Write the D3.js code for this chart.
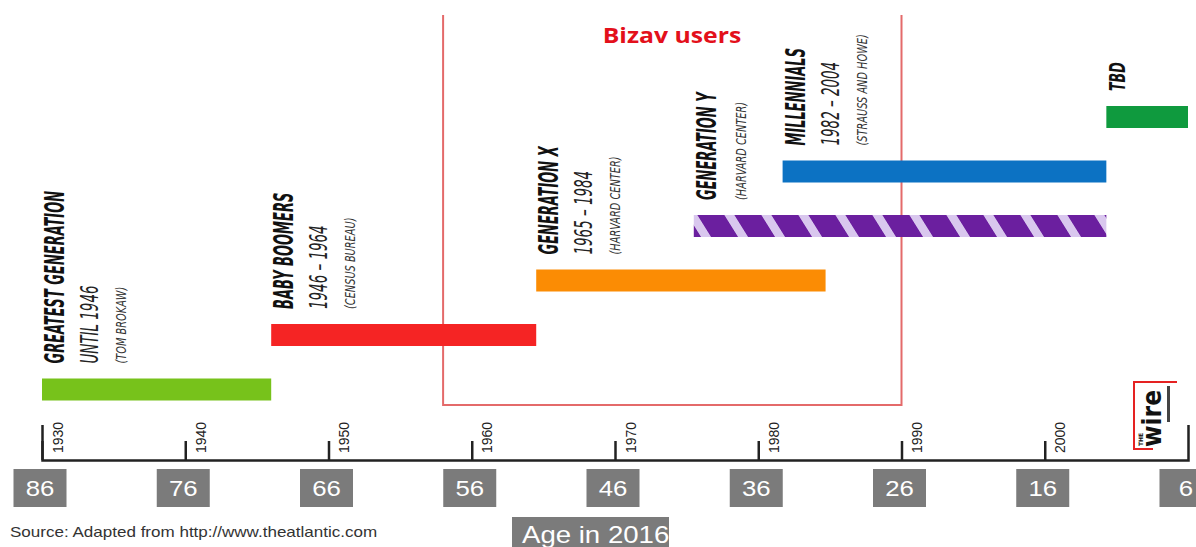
<!DOCTYPE html>
<html>
<head>
<meta charset="utf-8">
<script src="https://cdn.jsdelivr.net/npm/d3@7"></script>
<style>
  html, body { margin: 0; padding: 0; background: #fff; }
  svg { display: block; }
</style>
</head>
<body>
<svg id="chart" width="1196" height="547"></svg>
<script>
// ---------- DATA ----------
const genNames   = ["GREATEST GENERATION", "BABY BOOMERS", "GENERATION X", "GENERATION Y", "MILLENNIALS", "TBD"];
const genSpans   = ["UNTIL 1946", "1946 – 1964", "1965 – 1984", "", "1982 – 2004", ""];
const genSources = ["(TOM BROKAW)", "(CENSUS BUREAU)", "(HARVARD CENTER)", "(HARVARD CENTER)", "(STRAUSS AND HOWE)", ""];
const genStart   = [1930, 1946, 1964.5, 1975.5, 1981.7, 2004.3];
const genEnd     = [1946, 1964.5, 1984.7, 2004.3, 2004.3, 2010];
const tickYears  = [1930, 1940, 1950, 1960, 1970, 1980, 1990, 2000];
const ageYears   = [1930, 1940, 1950, 1960, 1970, 1980, 1990, 2000, 2010];
const ages       = [86, 76, 66, 56, 46, 36, 26, 16, 6];
const bizavRange = [1958, 1990];
const bizavLabel = "Bizav users";
const ageTitle   = "Age in 2016";
const sourceNote = "Source: Adapted from http://www.theatlantic.com";

// ---------- STYLE ----------
const genColors = ["#77c21b", "#f52424", "#fb8c04", "url(#stripes)", "#0c72c3", "#0f9a3e"];
const sansFont = "'Liberation Sans', Arial, Helvetica, sans-serif";
const labelFont = "'DejaVu Sans', sans-serif";

const svg = d3.select("#chart");

const x = d3.scaleLinear().domain([1930, 2010]).range([42, 1188]);
const y = d3.scalePoint().domain(genNames).range([389.5, 117]);
const barH = 22;

// pattern for Generation Y
const defs = svg.append("defs");
const pat = defs.append("pattern")
  .attr("id", "stripes")
  .attr("patternUnits", "userSpaceOnUse")
  .attr("width", 37).attr("height", 40)
  .attr("patternTransform", "translate(8,0) skewX(32)");
pat.append("rect").attr("width", 37).attr("height", 40).attr("fill", "#6b1f9f");
pat.append("rect").attr("x", 27).attr("width", 10).attr("height", 40).attr("fill", "#d9c7ee");

// Bizav box (open top)
const bx0 = x(bizavRange[0]), bx1 = x(bizavRange[1]);
svg.append("path")
  .attr("d", `M${bx0},15V405H${bx1}V15`)
  .attr("fill", "none")
  .attr("stroke", "#e46a6a")
  .attr("stroke-width", 2);
svg.append("text")
  .attr("transform", "translate(672,43) scale(1.18,1)")
  .attr("text-anchor", "middle")
  .attr("font-family", "'Open Sans', sans-serif")
  .attr("font-weight", 700)
  .attr("font-size", 21)
  .attr("fill", "#e3101b")
  .text(bizavLabel);

// Bars
const gens = genNames.map((n, i) => ({
  name: n, span: genSpans[i], source: genSources[i],
  start: genStart[i], end: genEnd[i], color: genColors[i]
}));

svg.append("g").selectAll("rect").data(gens).join("rect")
  .attr("x", d => x(d.start))
  .attr("y", d => y(d.name) - barH / 2)
  .attr("width", d => x(d.end) - x(d.start))
  .attr("height", barH)
  .attr("fill", d => d.color);

// Rotated, condensed labels (condensed along the reading direction)
function vlabel(g, px, py, k, txt) {
  return g.append("text")
    .attr("transform", `translate(${px},${py}) rotate(-90) scale(${k},1)`)
    .text(txt);
}

gens.forEach(d => {
  const x0 = x(d.start);
  const yb = y(d.name) - barH / 2 - 15;
  const g = svg.append("g").attr("font-family", labelFont).attr("font-style", "italic");
  const isTBD = d.name === "TBD";
  let off = isTBD ? 19 : 22;
  vlabel(g, x0 + off, yb, isTBD ? 0.6 : 0.5, d.name)
    .attr("font-weight", 700)
    .attr("font-size", isTBD ? 21 : 26)
    .attr("fill", "#111");
  if (d.span) {
    off += 34;
    vlabel(g, x0 + off, yb, 0.56, d.span)
      .attr("font-size", 24)
      .attr("fill", "#222");
    off += 28;
  } else {
    off += 30;
  }
  if (d.source) {
    vlabel(g, x0 + off, yb, 0.7, d.source)
      .attr("font-size", 14)
      .attr("fill", "#333");
  }
});

// Axis
const axisG = svg.append("g")
  .attr("transform", "translate(0,460)")
  .call(d3.axisTop(x).tickValues(tickYears).tickSizeInner(19).tickSizeOuter(35).tickFormat(d3.format("d")));
axisG.attr("font-family", sansFont).attr("font-size", 14);
axisG.select(".domain").attr("stroke", "#222").attr("stroke-width", 2.5).attr("fill", "none");
axisG.selectAll(".tick line").attr("stroke", "#222").attr("stroke-width", 2.5);
axisG.selectAll(".tick text")
  .attr("transform", "rotate(-90)")
  .attr("x", 7).attr("y", 20).attr("dy", null)
  .attr("text-anchor", "start")
  .attr("fill", "#222");

// Age boxes
const ageData = ageYears.map((yr, i) => ({ yr, age: ages[i] }));
const ageG = svg.append("g").selectAll("g").data(ageData).join("g");
ageG.append("rect")
  .attr("x", d => x(d.yr) - 28.5)
  .attr("y", 469)
  .attr("width", 53).attr("height", 38)
  .attr("fill", "#7b7b7b");
ageG.append("text")
  .attr("transform", d => `translate(${x(d.yr) - 2},496) scale(1.2,1)`)
  .attr("text-anchor", "middle")
  .attr("font-family", sansFont)
  .attr("font-size", 21.5)
  .attr("fill", "#fff")
  .text(d => d.age);

// Age title
svg.append("rect").attr("x", 512).attr("y", 517).attr("width", 157).attr("height", 40).attr("fill", "#7b7b7b");
svg.append("text")
  .attr("transform", "translate(522,543) scale(1.2,1)")
  .attr("font-family", sansFont)
  .attr("font-size", 23)
  .attr("fill", "#fff")
  .text(ageTitle);

// Source note
svg.append("text")
  .attr("transform", "translate(10,537) scale(1.2,1)")
  .attr("font-family", sansFont)
  .attr("font-size", 14.2)
  .attr("fill", "#333")
  .text(sourceNote);

// "the wire" logo
const logo = svg.append("g");
logo.append("path")
  .attr("d", "M1177,382H1134V449H1153")
  .attr("fill", "none").attr("stroke", "#e52222").attr("stroke-width", 2);
logo.append("text")
  .attr("transform", "translate(1161,447) rotate(-90) scale(0.9,1)")
  .attr("font-family", labelFont)
  .attr("font-weight", 700)
  .attr("font-size", 26)
  .attr("fill", "#111")
  .text("wire");
logo.append("text")
  .attr("transform", "translate(1143,446) rotate(-90)")
  .attr("font-family", labelFont)
  .attr("font-weight", 700)
  .attr("font-size", 6)
  .attr("fill", "#111")
  .text("THE");
logo.append("rect").attr("x", 1167).attr("y", 386).attr("width", 3).attr("height", 36).attr("fill", "#444");
</script>
</body>
</html>
